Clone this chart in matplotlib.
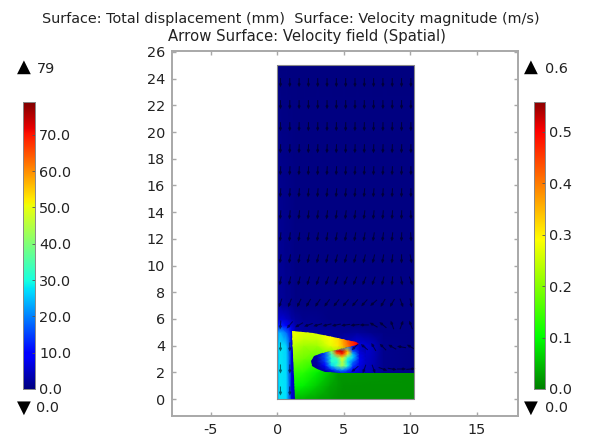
import numpy as np
import matplotlib
matplotlib.use("Agg")
import matplotlib.pyplot as plt
from matplotlib.colors import LinearSegmentedColormap
from matplotlib.patches import Polygon

# fluid speed (mm scale, jet colours)
fluid_x = [0, 0.2, 0.7, 1.1, 1.4, 2, 3, 4, 5, 6, 7, 8, 10.3]
fluid_y = [0, 2, 4, 5, 5.5, 6, 7, 25]
fluid_z = [
    [22, 28, 27, 6, 3, 2, 2, 2, 2, 2, 1, 0.5, 0.5],
    [22, 28, 27, 6, 3, 2, 2, 2, 3, 5, 4, 1, 0.5],
    [22, 28, 26, 6, 3, 2, 2, 2, 4, 7, 5, 1, 0.5],
    [20, 24, 18, 8, 3, 2, 2, 2, 1.5, 2, 1, 0.5, 0.5],
    [11, 13, 9, 6, 3, 2, 1.5, 1, 1, 0.5, 0.5, 0.5, 0.5],
    [5, 6, 5, 3, 2, 1, 1, 0.5, 0.5, 0.5, 0.5, 0.5, 0.5],
    [2, 2, 1.5, 1, 0.5, 0.5, 0.5, 0.5, 0.5, 0.5, 0.5, 0.5, 0.5],
    [0.3, 0.3, 0.3, 0.3, 0.3, 0.3, 0.3, 0.3, 0.3, 0.3, 0.3, 0.3, 0.3],
]

# wake behind the flap
wake_x = [2.4, 3, 3.6, 4.1, 4.5, 4.9, 5.3, 5.7, 6.2, 6.8]
wake_y = [1.9, 2.2, 2.5, 2.8, 3.1, 3.4, 3.6, 4.0]
wake_z = [
    [1, 1, 2, 3, 5, 7, 7, 6, 5, 3],
    [1, 2, 4, 12, 18, 22, 16, 10, 6, 3],
    [1, 2, 10, 26, 34, 44, 30, 14, 7, 4],
    [1, 3, 14, 32, 30, 46, 28, 18, 8, 4],
    [1, 3, 16, 30, 36, 50, 32, 26, 8, 4],
    [1, 4, 16, 36, 62, 70, 52, 24, 7, 4],
    [1, 4, 18, 42, 72, 74, 56, 16, 6, 3],
    [1, 3, 10, 20, 30, 30, 20, 8, 5, 3],
]

# flap and base displacement speed (traffic colours)
solid_x = [1.1, 2, 3, 4, 4.6, 5, 5.5, 6, 10.3]
solid_y = [0, 1, 2, 3, 4, 4.5, 5.2]
solid_z = [
    [0.05, 0.04, 0.03, 0.02, 0.015, 0.015, 0.015, 0.015, 0.015],
    [0.10, 0.09, 0.06, 0.03, 0.02, 0.015, 0.015, 0.015, 0.015],
    [0.14, 0.13, 0.09, 0.05, 0.02, 0.02, 0.02, 0.02, 0.015],
    [0.20, 0.18, 0.16, 0.15, 0.15, 0.15, 0.15, 0.15, 0.10],
    [0.24, 0.22, 0.22, 0.27, 0.31, 0.36, 0.44, 0.50, 0.50],
    [0.27, 0.25, 0.25, 0.29, 0.32, 0.38, 0.46, 0.50, 0.50],
    [0.29, 0.27, 0.27, 0.29, 0.32, 0.38, 0.46, 0.50, 0.50],
]

flap_outline_x = [1.15, 2.7, 4.2, 5.2, 5.9, 6.15, 5.9, 4.4, 3.4, 2.8, 2.55, 2.6, 3.0, 3.6, 4.6, 10.3, 10.3, 1.36]
flap_outline_y = [5.1, 4.94, 4.64, 4.45, 4.27, 4.15, 4.03, 3.67, 3.42, 3.22, 2.85, 2.45, 2.25, 2.05, 1.95, 1.95, 0, 0]
notch_x = [2.55, 2.8, 3.4, 4.4, 5.9, 6.7, 6.7, 4.6, 3.6, 3.0, 2.6]
notch_y = [2.85, 3.22, 3.42, 3.67, 4.03, 4.0, 1.95, 1.95, 2.05, 2.25, 2.45]

# velocity arrows: turn from straight down towards the left, degrees; None = inside solid
arrow_x = [0.25, 0.95, 1.65, 2.35, 3.05, 3.75, 4.45, 5.15, 5.85, 6.55, 7.25, 7.95, 8.65, 9.35, 10.05]
arrow_y = [23.7, 22.05, 20.4, 18.75, 17.1, 15.45, 13.8, 12.15, 10.5, 8.85, 7.2, 5.55, 3.9, 2.25, 0.6]
N = None
arrow_a = [
    [0, 0, 0, 0, 0, 0, 0, 0, 0, 0, 0, 0, 0, 0, 0],
    [0, 0, 0, 0, 0, 0, 0, 0, 0, 0, 0, 0, 0, 0, 0],
    [0, 0, 1, 1, 1, 1, 1, 1, 1, 1, 1, 1, 1, 0, 0],
    [2, 2, 2, 2, 2, 2, 2, 2, 2, 2, 2, 2, 2, 2, 0],
    [3, 3, 3, 3, 3, 3, 3, 3, 3, 3, 3, 3, 3, 2, 0],
    [4, 4, 4, 5, 5, 5, 5, 5, 5, 5, 5, 4, 3, 2, 0],
    [5, 5, 6, 6, 6, 7, 7, 7, 7, 7, 6, 5, 4, 2, -2],
    [6, 7, 8, 8, 9, 9, 10, 10, 10, 10, 9, 8, 6, 2, -4],
    [8, 9, 10, 11, 12, 13, 14, 14, 15, 14, 13, 10, 6, 0, -10],
    [10, 12, 14, 16, 18, 20, 21, 22, 22, 22, 20, 14, 5, -10, -20],
    [18, 22, 26, 30, 34, 36, 38, 40, 40, 42, 48, 30, 30, -20, -10],
    [5, 40, 60, 70, 74, 76, 78, 82, 84, 90, 120, 130, 160, -160, 160],
    [0, 0, N, N, N, N, N, N, 45, 130, 150, 135, 120, 100, 120],
    [0, 0, N, N, N, N, N, N, 50, 20, 340, 290, 280, 270, 265],
    [0, 0, N, N, N, N, N, N, N, N, N, N, N, N, N],
]

left_ticks = [0, 10, 20, 30, 40, 50, 60, 70]
right_ticks = [0, 0.1, 0.2, 0.3, 0.4, 0.5]
left_max = 79
right_max = 0.558

plt.rcParams["axes.unicode_minus"] = False
traffic = LinearSegmentedColormap.from_list(
    "traffic", [(0, "#008000"), (0.18, "#00ff00"), (0.52, "#ffff00"), (0.9, "#ff0000"), (1, "#8b0000")])
ink = "#222222"
edge = "#a8a8a8"
W, H = 593, 437

fig = plt.figure(figsize=(5.93, 4.37), dpi=100)
ax = fig.add_axes([172 / W, 1 - 416 / H, 346 / W, 365 / H])

outer = Polygon([[0, 0], [10.3, 0], [10.3, 25], [0, 25]], closed=True, transform=ax.transData)
m = ax.pcolormesh(fluid_x, fluid_y, fluid_z, cmap="jet", vmin=0, vmax=left_max, shading="gouraud", zorder=1)
m.set_clip_path(outer)

notch = Polygon(np.column_stack([notch_x, notch_y]), closed=True, transform=ax.transData)
m = ax.pcolormesh(wake_x, wake_y, wake_z, cmap="jet", vmin=0, vmax=left_max, shading="gouraud", zorder=2)
m.set_clip_path(notch)

flap = Polygon(np.column_stack([flap_outline_x, flap_outline_y]), closed=True, transform=ax.transData)
m = ax.pcolormesh(solid_x, solid_y, solid_z, cmap=traffic, vmin=0, vmax=right_max, shading="gouraud", zorder=3)
m.set_clip_path(flap)

ax.plot([0, 10.3, 10.3, 0, 0], [0, 0, 25, 25, 0], color="#8a8a8a", lw=0.8, zorder=5)

# arrows
ang = np.deg2rad(np.array(arrow_a, dtype=float))
ax.quiver(arrow_x, arrow_y, np.ma.masked_invalid(-np.sin(ang)), np.ma.masked_invalid(-np.cos(ang)),
          color="black", alpha=0.55, angles="uv", scale=38, width=0.003, headwidth=3, headlength=3,
          pivot="middle", zorder=4)

ax.set_xlim(-7.9, 18.1)
ax.set_ylim(-1.27, 26.07)
ax.set_xticks([-5, 0, 5, 10, 15])
ax.set_yticks(range(0, 27, 2))
ax.tick_params(direction="in", length=3, width=1, color=edge, labelcolor=ink, labelsize=10.4,
               top=True, right=True, pad=5)
ax.tick_params(axis="x", pad=5)
for s in ax.spines.values():
    s.set_color(edge)
    s.set_linewidth(1.4)

fig.text(291 / W, 1 - 19 / H, "Surface: Total displacement (mm)  Surface: Velocity magnitude (m/s)",
         ha="center", va="center", fontsize=10.4, color=ink)
fig.text(307 / W, 1 - 37 / H, "Arrow Surface: Velocity field (Spatial)",
         ha="center", va="center", fontsize=10.7, color=ink)


def colorbar(x0, x1, cmap, vmax, ticks, fmt):
    cax = fig.add_axes([x0 / W, 1 - 389 / H, (x1 - x0) / W, 287 / H])
    grad = np.linspace(0, vmax, 256).reshape(-1, 1)
    cax.imshow(grad, origin="lower", aspect="auto", cmap=cmap, vmin=0, vmax=vmax, extent=[0, 1, 0, vmax])
    cax.set_xticks([])
    cax.yaxis.tick_right()
    cax.set_yticks(ticks)
    cax.set_yticklabels([fmt % t for t in ticks])
    cax.tick_params(axis="y", direction="in", length=2, width=0.6, color="#555555", labelcolor=ink,
                    labelsize=10.4, pad=3)
    for s in cax.spines.values():
        s.set_color("#888888")
        s.set_linewidth(0.7)


colorbar(23, 35, "jet", left_max, left_ticks, "%.1f")
colorbar(534, 545, traffic, right_max, right_ticks, "%.1f")

# range markers beside each colour bar
for tx, up_txt, down_txt, lx_up, lx_down in [(24, "79", "0.0", 37, 36), (531, "0.6", "0.0", 545, 545)]:
    fig.text(tx / W, 1 - 67 / H, "\u25b2", ha="center", va="center", fontsize=13, color="black")
    fig.text(lx_up / W, 1 - 69 / H, up_txt, ha="left", va="center", fontsize=10.4, color=ink)
    fig.text(tx / W, 1 - 408 / H, "\u25bc", ha="center", va="center", fontsize=13, color="black")
    fig.text(lx_down / W, 1 - 408 / H, down_txt, ha="left", va="center", fontsize=10.4, color=ink)

fig.savefig("out.png", dpi=100)
